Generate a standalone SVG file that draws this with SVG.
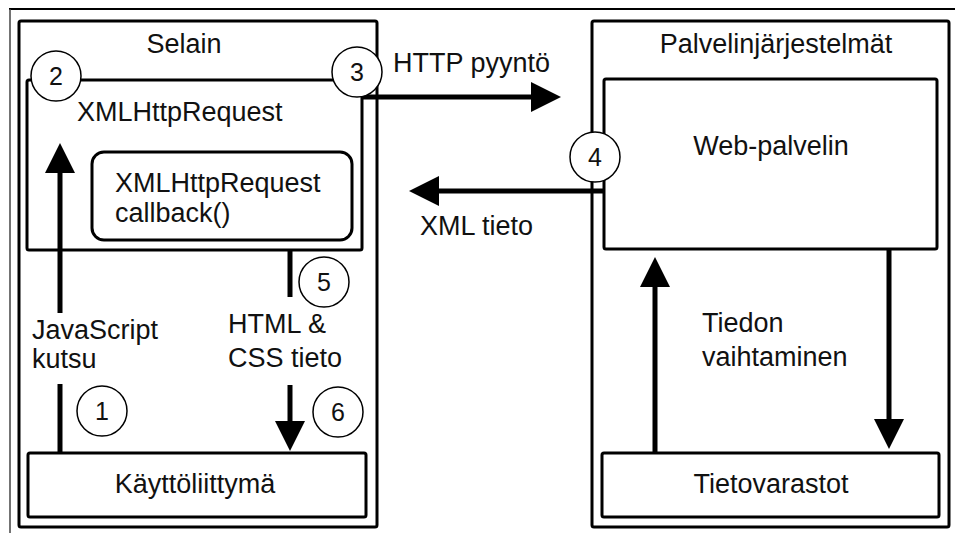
<svg xmlns="http://www.w3.org/2000/svg" width="955" height="533" viewBox="0 0 955 533">
<style>
.box{fill:none;stroke:#000;stroke-width:3}
.conn{fill:none;stroke:#000;stroke-width:5}
.circ{fill:#fff;stroke:#000;stroke-width:1.5}
text{font-family:"Liberation Sans",Arial,sans-serif;font-size:27px;fill:#111}
.num{font-size:25px;text-anchor:middle}
.mid{text-anchor:middle}
</style>
<defs>
<marker id="ah" markerUnits="userSpaceOnUse" markerWidth="30" markerHeight="30" viewBox="0 0 30 30" refX="1" refY="15" orient="auto">
<path d="M0,0 L30,15 L0,30 Z" fill="#000"/>
</marker>
</defs>
<rect width="955" height="533" fill="#fff"/>
<g id="frame">
<line x1="9" y1="9" x2="955" y2="9" stroke="#000" stroke-width="2"/>
<line x1="10" y1="9" x2="10" y2="533" stroke="#444" stroke-width="1.5"/>
</g>
<g id="selain">
<rect class="box" x="19" y="21" width="358" height="506" rx="2"/>
<text class="mid" x="184" y="53">Selain</text>
</g>
<g id="palvelin">
<rect class="box" x="592" y="21" width="357" height="506" rx="2"/>
<text class="mid" x="776" y="53">Palvelinjärjestelmät</text>
</g>
<g id="xhr">
<rect class="box" x="27" y="80" width="335" height="170" rx="2"/>
<text x="77" y="121">XMLHttpRequest</text>
</g>
<g id="callback">
<rect class="box" x="92" y="152" width="260" height="88" rx="12"/>
<text x="115" y="192">XMLHttpRequest</text>
<text x="115" y="222">callback()</text>
</g>
<g id="kayttoliittyma">
<rect class="box" x="28" y="453" width="338" height="64" rx="2"/>
<text class="mid" x="195" y="493">Käyttöliittymä</text>
</g>
<g id="webpalvelin">
<rect class="box" x="604" y="79" width="333" height="170" rx="2"/>
<text class="mid" x="771" y="155">Web-palvelin</text>
</g>
<g id="tietovarastot">
<rect class="box" x="602" y="453" width="337" height="64" rx="2"/>
<text class="mid" x="771" y="493">Tietovarastot</text>
</g>
<g id="connectors">
<path class="conn" d="M60,313 L60,172" marker-end="url(#ah)"/>
<path class="conn" d="M60,452 L60,384"/>
<path class="conn" d="M362,97 L532,97" marker-end="url(#ah)"/>
<path class="conn" d="M604,191 L438,191" marker-end="url(#ah)"/>
<path class="conn" d="M290,250 L290,297"/>
<path class="conn" d="M290,385 L290,422" marker-end="url(#ah)"/>
<path class="conn" d="M889,249 L889,420" marker-end="url(#ah)"/>
<path class="conn" d="M655,453 L655,286" marker-end="url(#ah)"/>
</g>
<g id="labels">
<text x="393" y="72">HTTP pyyntö</text>
<text x="420" y="235">XML tieto</text>
<text x="32" y="339">JavaScript</text>
<text x="32" y="368">kutsu</text>
<text x="228" y="333">HTML &amp;</text>
<text x="228" y="367">CSS tieto</text>
<text x="702" y="332">Tiedon</text>
<text x="702" y="366">vaihtaminen</text>
</g>
<g id="steps">
<g id="step1"><circle class="circ" cx="102" cy="411" r="25"/><text class="num" x="102" y="420">1</text></g>
<g id="step2"><circle class="circ" cx="56" cy="76" r="25"/><text class="num" x="56" y="85">2</text></g>
<g id="step3"><circle class="circ" cx="357" cy="72" r="25"/><text class="num" x="357" y="81">3</text></g>
<g id="step4"><circle class="circ" cx="595" cy="157" r="25"/><text class="num" x="595" y="166">4</text></g>
<g id="step5"><circle class="circ" cx="324" cy="282" r="25"/><text class="num" x="324" y="291">5</text></g>
<g id="step6"><circle class="circ" cx="338" cy="412" r="25"/><text class="num" x="338" y="421">6</text></g>
</g>
</svg>
